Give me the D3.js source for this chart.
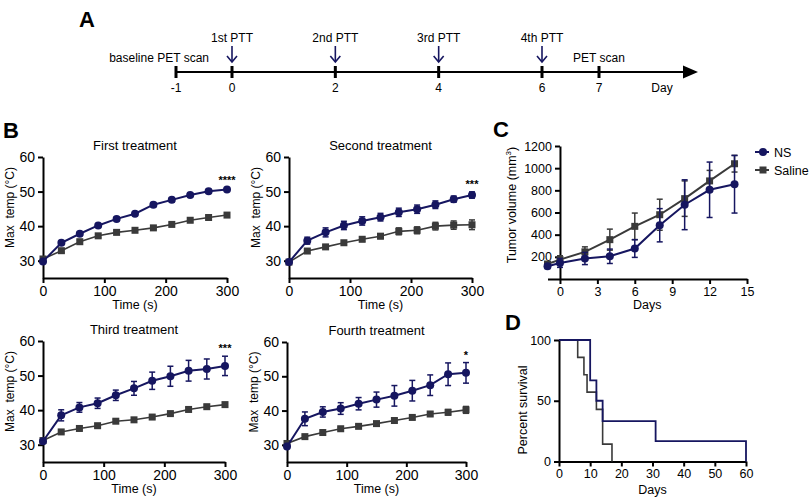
<!DOCTYPE html>
<html>
<head>
<meta charset="utf-8">
<script src="https://cdnjs.cloudflare.com/ajax/libs/d3/7.8.5/d3.min.js"></script>
<style>
  body { margin: 0; background: #fff; }
  svg { display: block; font-family: "Liberation Sans", Arial, sans-serif; }
  .axis path, .axis line { stroke: #000; stroke-width: 2px; }
  .axis text { fill: #000; font-family: "Liberation Sans", Arial, sans-serif; }
</style>
</head>
<body>
<div id="viz"></div>
<script>
// ---- data ----
// A: timeline
var timelineDays = [-1, 0, 2, 4, 6, 7];
var pttDays = [0, 2, 4, 6];
var pttLabels = ["1st PTT", "2nd PTT", "3rd PTT", "4th PTT"];

// B: max temperature during treatment
var timeS = [0, 30, 60, 90, 120, 150, 180, 210, 240, 270, 300];
var firstNS      = [29.8, 35.2, 37.8, 40.2, 42.1, 43.6, 46.2, 47.6, 49.0, 50.1, 50.6];
var firstNSErr   = [0.4, 0.5, 0.5, 0.5, 0.5, 0.5, 0.6, 0.6, 0.5, 0.5, 0.5];
var firstSal     = [30.5, 32.9, 35.5, 37.2, 38.2, 38.8, 39.5, 40.5, 41.7, 42.5, 43.2];
var firstSalErr  = [0.4, 0.5, 0.5, 0.5, 0.4, 0.4, 0.4, 0.5, 0.5, 0.5, 0.5];
var secondNS     = [29.6, 35.8, 38.2, 40.2, 41.5, 42.6, 44.0, 44.9, 46.2, 47.8, 49.0];
var secondNSErr  = [0.5, 1.0, 1.3, 1.2, 1.2, 1.1, 1.2, 1.2, 1.1, 0.9, 0.9];
var secondSal    = [29.6, 32.8, 34.0, 35.2, 36.2, 37.1, 38.5, 38.8, 40.0, 40.3, 40.4];
var secondSalErr = [0.4, 0.5, 0.5, 0.5, 0.6, 0.7, 1.0, 1.0, 1.1, 1.2, 1.4];
var thirdNS      = [31.0, 38.5, 40.8, 42.0, 44.3, 46.3, 48.5, 49.8, 51.4, 51.9, 52.8];
var thirdNSErr   = [0.5, 1.6, 1.4, 1.5, 1.5, 2.0, 2.5, 2.9, 3.0, 2.9, 2.8];
var thirdSal     = [31.2, 33.7, 34.7, 35.5, 36.8, 37.2, 38.0, 39.0, 40.2, 41.0, 41.6];
var thirdSalErr  = [0.4, 0.5, 0.5, 0.5, 0.5, 0.5, 0.5, 0.5, 0.5, 0.5, 0.5];
var fourthNS     = [29.5, 37.6, 39.6, 40.6, 42.0, 43.2, 44.3, 45.8, 47.4, 50.6, 51.0];
var fourthNSErr  = [0.5, 2.0, 1.5, 1.7, 1.8, 2.2, 3.0, 3.0, 3.0, 3.3, 3.0];
var fourthSal    = [30.4, 32.4, 33.6, 34.7, 35.4, 36.2, 37.1, 38.0, 39.0, 39.5, 40.2];
var fourthSalErr = [0.4, 0.4, 0.4, 0.4, 0.4, 0.4, 0.4, 0.5, 0.6, 0.8, 1.0];
var tempTicksX = [0, 100, 200, 300];
var tempTicksY = [30, 40, 50, 60];

// C: tumour volume
var volDays   = [-1, 0, 2, 4, 6, 8, 10, 12, 14];
var volNS     = [115, 145, 185, 205, 275, 485, 670, 805, 855];
var volNSErr  = [20, 40, 55, 65, 80, 150, 225, 250, 260];
var volSal    = [135, 175, 245, 355, 475, 580, 725, 885, 1040];
var volSalErr = [20, 35, 45, 95, 120, 140, 160, 95, 75];
var volTicksX = [0, 3, 6, 9, 12, 15];
var volTicksY = [200, 400, 600, 800, 1000, 1200];

// D: survival (Kaplan-Meier steps)
var survNSDays   = [0, 10, 12, 14, 31, 60];
var survNSPct    = [100, 66.7, 50, 33.3, 16.7, 0];
var survSalDays  = [0, 6, 8, 9, 12, 14, 17];
var survSalPct   = [100, 85.7, 71.4, 57.1, 42.9, 14.3, 0];
var survTicksX = [0, 10, 20, 30, 40, 50, 60];
var survTicksY = [0, 50, 100];

var navy = "#161660";
var grey = "#3a3a3a";

var svg = d3.select("#viz").append("svg")
    .attr("width", 810).attr("height", 499);

function letter(txt, x, y) {
  svg.append("text").attr("x", x).attr("y", y)
    .attr("font-size", "22px").attr("font-weight", "bold").text(txt);
}

/* ---------- A: timeline ---------- */
letter("A", 79, 27);
var tl = d3.scaleLinear().domain([-1, 0, 6, 7]).range([176, 232, 542, 599]);
var tlY = 72;
var gA = svg.append("g");
gA.append("line").attr("x1", tl(-1)).attr("x2", 686).attr("y1", tlY).attr("y2", tlY)
  .attr("stroke", "#000").attr("stroke-width", 2);
gA.append("path").attr("d", "M683," + (tlY - 6.5) + " L698," + tlY + " L683," + (tlY + 6.5) + " Z")
  .attr("fill", "#000");
gA.selectAll(".tk").data(timelineDays).enter().append("line")
  .attr("x1", function(d) { return tl(d); }).attr("x2", function(d) { return tl(d); })
  .attr("y1", tlY - 6).attr("y2", tlY + 6)
  .attr("stroke", "#000").attr("stroke-width", 3);
gA.selectAll(".tl").data(timelineDays).enter().append("text")
  .attr("x", function(d) { return tl(d); }).attr("y", tlY + 20)
  .attr("text-anchor", "middle").attr("font-size", "12px").text(function(d) { return d; });
gA.append("text").attr("x", 662).attr("y", tlY + 20).attr("text-anchor", "middle")
  .attr("font-size", "12px").text("Day");
gA.append("text").attr("x", 209).attr("y", 62).attr("text-anchor", "end")
  .attr("font-size", "12px").text("baseline PET scan");
gA.append("text").attr("x", tl(7)).attr("y", 62).attr("text-anchor", "middle")
  .attr("font-size", "12px").text("PET scan");
gA.selectAll(".pl").data(pttDays).enter().append("text")
  .attr("x", function(d) { return tl(d); }).attr("y", 42)
  .attr("text-anchor", "middle").attr("font-size", "12px")
  .text(function(d, i) { return pttLabels[i]; });
var arrows = gA.selectAll(".ar").data(pttDays).enter().append("g")
  .attr("transform", function(d) { return "translate(" + tl(d) + ",0)"; });
arrows.append("line").attr("x1", 0).attr("x2", 0).attr("y1", 46).attr("y2", 62)
  .attr("stroke", navy).attr("stroke-width", 1.6);
arrows.append("path").attr("d", "M-5,56 L0,62 L5,56").attr("fill", "none")
  .attr("stroke", navy).attr("stroke-width", 1.6);

/* ---------- B: temperature panels ---------- */
letter("B", 3, 138);

function drawTemp(cfg) {
  var x = d3.scaleLinear().domain([0, 300]).range(cfg.xr);
  var y = d3.scaleLinear().domain([25, 60]).range(cfg.yr);
  var g = svg.append("g");

  g.append("g").attr("class", "axis")
    .attr("transform", "translate(0," + cfg.yr[0] + ")")
    .call(d3.axisBottom(x).tickValues(tempTicksX).tickSize(5).tickSizeOuter(0));
  g.append("g").attr("class", "axis")
    .attr("transform", "translate(" + cfg.xr[0] + ",0)")
    .call(d3.axisLeft(y).tickValues(tempTicksY).tickSize(5).tickSizeOuter(0));
  g.selectAll(".axis text").attr("font-size", "14px");

  g.append("text").attr("x", (cfg.xr[0] + cfg.xr[1]) / 2).attr("y", cfg.yr[1] - 7)
    .attr("text-anchor", "middle").attr("font-size", "13px").text(cfg.title);
  g.append("text").attr("x", (cfg.xr[0] + cfg.xr[1]) / 2).attr("y", cfg.yr[0] + 31)
    .attr("text-anchor", "middle").attr("font-size", "12.5px").text("Time (s)");
  g.append("text")
    .attr("transform", "translate(" + (cfg.xr[0] - 29) + "," + ((cfg.yr[0] + cfg.yr[1]) / 2 - 10) + ") rotate(-90)")
    .attr("text-anchor", "middle").attr("font-size", "12px")
    .style("white-space", "pre").text("Max  temp (\u00B0C)");

  var series = [
    { v: cfg.sal, e: cfg.salErr, c: grey, shape: "sq", w: 1.6 },
    { v: cfg.ns, e: cfg.nsErr, c: navy, shape: "ci", w: 2 }
  ];
  series.forEach(function(s) {
    var pts = timeS.map(function(t, i) { return { t: t, v: s.v[i], e: s.e[i] }; });
    var eb = g.append("g").selectAll("g").data(pts).enter().append("g");
    eb.append("line")
      .attr("x1", function(d) { return x(d.t); }).attr("x2", function(d) { return x(d.t); })
      .attr("y1", function(d) { return y(d.v + d.e); }).attr("y2", function(d) { return y(d.v - d.e); })
      .attr("stroke", s.c).attr("stroke-width", 1.5);
    [1, -1].forEach(function(sg) {
      eb.append("line")
        .attr("x1", function(d) { return x(d.t) - 3; }).attr("x2", function(d) { return x(d.t) + 3; })
        .attr("y1", function(d) { return y(d.v + sg * d.e); }).attr("y2", function(d) { return y(d.v + sg * d.e); })
        .attr("stroke", s.c).attr("stroke-width", 1.5);
    });
    g.append("path").datum(pts)
      .attr("d", d3.line().x(function(d) { return x(d.t); }).y(function(d) { return y(d.v); }))
      .attr("fill", "none").attr("stroke", s.c).attr("stroke-width", s.w);
    if (s.shape === "ci") {
      g.selectAll(null).data(pts).enter().append("circle")
        .attr("cx", function(d) { return x(d.t); }).attr("cy", function(d) { return y(d.v); })
        .attr("r", 4).attr("fill", s.c);
    } else {
      g.selectAll(null).data(pts).enter().append("rect")
        .attr("x", function(d) { return x(d.t) - 3.5; }).attr("y", function(d) { return y(d.v) - 3.5; })
        .attr("width", 7).attr("height", 7).attr("fill", s.c);
    }
  });
  var last = timeS.length - 1;
  g.append("text").attr("x", x(300)).attr("y", y(cfg.ns[last] + cfg.nsErr[last]) - 4)
    .attr("text-anchor", "middle").attr("font-size", "11px").attr("font-weight", "bold")
    .text(cfg.star);
}

drawTemp({ xr: [43, 227], yr: [278, 157], title: "First treatment",
  ns: firstNS, nsErr: firstNSErr, sal: firstSal, salErr: firstSalErr, star: "****" });
drawTemp({ xr: [289, 472], yr: [278, 157], title: "Second treatment",
  ns: secondNS, nsErr: secondNSErr, sal: secondSal, salErr: secondSalErr, star: "***" });
drawTemp({ xr: [43, 225], yr: [462, 341], title: "Third treatment",
  ns: thirdNS, nsErr: thirdNSErr, sal: thirdSal, salErr: thirdSalErr, star: "***" });
drawTemp({ xr: [287, 466], yr: [462, 342], title: "Fourth treatment",
  ns: fourthNS, nsErr: fourthNSErr, sal: fourthSal, salErr: fourthSalErr, star: "*" });

/* ---------- C: tumour volume ---------- */
letter("C", 493, 137);
var xC = d3.scaleLinear().domain([-1, 15]).range([547.5, 747]);
var yC = d3.scaleLinear().domain([0, 1200]).range([279, 146]);
var gC = svg.append("g");
gC.append("g").attr("class", "axis").attr("transform", "translate(0," + yC(0) + ")")
  .call(d3.axisBottom(xC).tickValues(volTicksX).tickSize(5).tickSizeOuter(0));
gC.append("g").attr("class", "axis").attr("transform", "translate(" + xC(0) + ",0)")
  .call(d3.axisLeft(yC).tickValues(volTicksY).tickFormat(d3.format("d")).tickSize(5).tickSizeOuter(0));
gC.selectAll(".axis text").attr("font-size", "12.5px");
gC.append("text").attr("x", xC(7)).attr("y", 309).attr("text-anchor", "middle")
  .attr("font-size", "12.5px").text("Days");
var yl = gC.append("text").attr("transform", "translate(516,205) rotate(-90)")
  .attr("text-anchor", "middle").attr("font-size", "12.5px");
yl.append("tspan").text("Tumor volume (mm");
yl.append("tspan").attr("font-size", "8px").attr("dy", -5).text("3");
yl.append("tspan").attr("dy", 5).text(")");

[{ v: volSal, e: volSalErr, c: grey, shape: "sq" }, { v: volNS, e: volNSErr, c: navy, shape: "ci" }]
  .forEach(function(s) {
    var pts = volDays.map(function(d, i) { return { t: d, v: s.v[i], e: s.e[i] }; });
    var eb = gC.append("g").selectAll("g").data(pts).enter().append("g");
    eb.append("line")
      .attr("x1", function(d) { return xC(d.t); }).attr("x2", function(d) { return xC(d.t); })
      .attr("y1", function(d) { return yC(d.v + d.e); }).attr("y2", function(d) { return yC(d.v - d.e); })
      .attr("stroke", s.c).attr("stroke-width", 1.5);
    [1, -1].forEach(function(sg) {
      eb.append("line")
        .attr("x1", function(d) { return xC(d.t) - 3; }).attr("x2", function(d) { return xC(d.t) + 3; })
        .attr("y1", function(d) { return yC(d.v + sg * d.e); }).attr("y2", function(d) { return yC(d.v + sg * d.e); })
        .attr("stroke", s.c).attr("stroke-width", 1.5);
    });
    gC.append("path").datum(pts)
      .attr("d", d3.line().x(function(d) { return xC(d.t); }).y(function(d) { return yC(d.v); }))
      .attr("fill", "none").attr("stroke", s.c).attr("stroke-width", 2);
    if (s.shape === "ci") {
      gC.selectAll(null).data(pts).enter().append("circle")
        .attr("cx", function(d) { return xC(d.t); }).attr("cy", function(d) { return yC(d.v); })
        .attr("r", 4).attr("fill", s.c);
    } else {
      gC.selectAll(null).data(pts).enter().append("rect")
        .attr("x", function(d) { return xC(d.t) - 3.5; }).attr("y", function(d) { return yC(d.v) - 3.5; })
        .attr("width", 7).attr("height", 7).attr("fill", s.c);
    }
  });

// legend
var legend = [{ name: "NS", c: navy, shape: "ci" }, { name: "Saline", c: grey, shape: "sq" }];
var lg = gC.selectAll(".lg").data(legend).enter().append("g")
  .attr("transform", function(d, i) { return "translate(755," + (152 + i * 18) + ")"; });
lg.append("line").attr("x1", 0).attr("x2", 14).attr("stroke", function(d) { return d.c; })
  .attr("stroke-width", 2);
lg.each(function(d) {
  var el = d3.select(this);
  if (d.shape === "ci") el.append("circle").attr("cx", 8).attr("r", 4).attr("fill", d.c);
  else el.append("rect").attr("x", 4.5).attr("y", -3.5).attr("width", 7).attr("height", 7).attr("fill", d.c);
});
lg.append("text").attr("x", 19).attr("y", 4.5).attr("font-size", "12.5px")
  .text(function(d) { return d.name; });

/* ---------- D: survival ---------- */
letter("D", 505, 330);
var xD = d3.scaleLinear().domain([0, 60]).range([559, 746]);
var yD = d3.scaleLinear().domain([0, 100]).range([461.5, 340]);
var gD = svg.append("g");
gD.append("g").attr("class", "axis").attr("transform", "translate(0," + yD(0) + ")")
  .call(d3.axisBottom(xD).tickValues(survTicksX).tickSize(5).tickSizeOuter(0));
gD.append("g").attr("class", "axis").attr("transform", "translate(" + xD(0) + ",0)")
  .call(d3.axisLeft(yD).tickValues(survTicksY).tickSize(5).tickSizeOuter(0));
gD.selectAll(".axis text").attr("font-size", "12.5px");
gD.append("text").attr("x", xD(30)).attr("y", 494).attr("text-anchor", "middle")
  .attr("font-size", "12.5px").text("Days");
gD.append("text").attr("transform", "translate(527,410) rotate(-90)")
  .attr("text-anchor", "middle").attr("font-size", "12.5px").text("Percent survival");

function kmPoints(days, pct) {
  return days.map(function(d, i) { return { t: d, v: pct[i] }; });
}
var stepLine = d3.line().curve(d3.curveStepAfter)
  .x(function(d) { return xD(d.t); }).y(function(d) { return yD(d.v); });
gD.append("path").datum(kmPoints(survSalDays, survSalPct)).attr("d", stepLine)
  .attr("fill", "none").attr("stroke", grey).attr("stroke-width", 1.6);
gD.append("path").datum(kmPoints(survNSDays, survNSPct)).attr("d", stepLine)
  .attr("fill", "none").attr("stroke", navy).attr("stroke-width", 1.8);
</script>
</body>
</html>
